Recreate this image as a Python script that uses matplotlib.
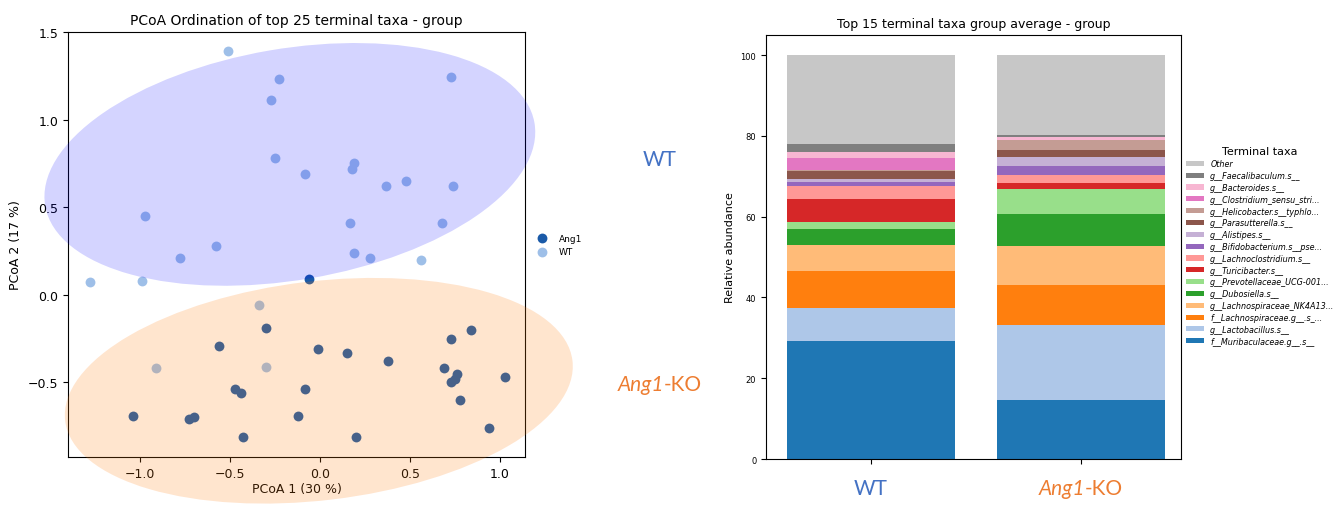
import matplotlib
matplotlib.use('Agg')
import matplotlib.pyplot as plt
from matplotlib.patches import Ellipse
from matplotlib.offsetbox import TextArea, HPacker, AnnotationBbox
import numpy as np

# PCoA coordinates
wt_x = [-0.51, -0.23, -0.27, 0.73, -0.25, -0.08, 0.19, 0.18, 0.37, 0.48, 0.74,
        -0.97, -0.58, -0.78, 0.17, 0.68, 0.19, 0.28, 0.56, -0.99, -1.28,
        -0.34, -0.91, -0.30]
wt_y = [1.39, 1.23, 1.11, 1.24, 0.78, 0.69, 0.75, 0.72, 0.62, 0.65, 0.62,
        0.45, 0.28, 0.21, 0.41, 0.41, 0.24, 0.21, 0.20, 0.08, 0.07,
        -0.06, -0.42, -0.41]
ang_x = [-0.06, -0.30, -0.56, -0.01, 0.15, 0.38, 0.84, 0.73, 0.69, 0.76, 0.75,
         0.73, 1.03, 0.78, 0.94, -0.47, -0.44, -0.08, -1.04, -0.73, -0.70,
         -0.12, -0.43, 0.20]
ang_y = [0.09, -0.19, -0.29, -0.31, -0.33, -0.38, -0.20, -0.25, -0.42, -0.45,
         -0.48, -0.50, -0.47, -0.60, -0.76, -0.54, -0.56, -0.54, -0.69, -0.71,
         -0.70, -0.69, -0.81, -0.81]

# stacked bar data (percent)
groups = ['WT', 'Ang1-KO']
taxa = ['f__Muribaculaceae.g__.s__', 'g__Lactobacillus.s__', 'f__Lachnospiraceae.g__.s_...',
        'g__Lachnospiraceae_NK4A13...', 'g__Dubosiella.s__', 'g__Prevotellaceae_UCG-001...',
        'g__Turicibacter.s__', 'g__Lachnoclostridium.s__', 'g__Bifidobacterium.s__pse...',
        'g__Alistipes.s__', 'g__Parasutterella.s__', 'g__Helicobacter.s__typhlo...',
        'g__Clostridium_sensu_stri...', 'g__Bacteroides.s__', 'g__Faecalibaculum.s__', 'Other']
wt_vals = [29.2, 8.1, 9.2, 6.4, 4.0, 1.7, 5.9, 3.1, 0.9, 0.9, 1.8, 0.3, 3.1, 1.5, 1.8, 22.1]
ko_vals = [14.7, 18.5, 9.8, 9.7, 8.0, 6.1, 1.5, 2.0, 2.3, 2.1, 1.7, 2.5, 0.1, 0.8, 0.5, 19.7]

WT_COL = '#4472c4'
KO_COL = '#ed7d31'


def ko_label(ax, xy, xycoords):
    props = dict(color=KO_COL, fontsize=15, family='Lato')
    box = HPacker(children=[TextArea('Ang1', textprops=dict(style='italic', **props)),
                            TextArea('-KO', textprops=props)],
                  align='baseline', pad=0, sep=0)
    ab = AnnotationBbox(box, xy, xycoords=xycoords, frameon=False, box_alignment=(0.5, 0.5),
                        annotation_clip=False, pad=0)
    ax.add_artist(ab)


fig = plt.figure(figsize=(13.38, 5.06), dpi=100)

# ---- PCoA panel ----
ax1 = fig.add_axes([0.0508, 0.0949, 0.3416, 0.840])
ax1.scatter(ang_x, ang_y, s=50, color='#1a5aa8', label='Ang1', zorder=2, linewidths=0)
ax1.scatter(wt_x, wt_y, s=50, color='#9ebfe8', label='WT', zorder=2, linewidths=0)
ax1.add_patch(Ellipse((-0.167, 0.744), 2.76, 1.32, angle=10, color='blue', alpha=0.17,
                      lw=0, zorder=3, clip_on=False))
ax1.add_patch(Ellipse((-0.006, -0.548), 2.84, 1.25, angle=7, color='#ff7f0e', alpha=0.2,
                      lw=0, zorder=3, clip_on=False))
ax1.set_xlim(-1.4, 1.14)
ax1.set_ylim(-0.926, 1.5)
ax1.set_xticks([-1.0, -0.5, 0.0, 0.5, 1.0])
ax1.set_yticks([-0.5, 0.0, 0.5, 1.0, 1.5])
ax1.tick_params(labelsize=9)
ax1.set_xlabel('PCoA 1 (30 %)', fontsize=9, labelpad=2)
ax1.set_ylabel('PCoA 2 (17 %)', fontsize=9)
ax1.set_title('PCoA Ordination of top 25 terminal taxa - group', fontsize=10)
fig.legend(*ax1.get_legend_handles_labels(), loc='upper left', bbox_to_anchor=(0.396, 0.543),
           frameon=False, fontsize=6.5, handletextpad=0.8, borderaxespad=0)

fig.text(660 / 1338, 1 - 160 / 506, 'WT', color=WT_COL, fontsize=15, family='Lato',
         ha='center', va='center')
ko_label(ax1, (660 / 1338, 1 - 385 / 506), 'figure fraction')

# ---- stacked bar panel ----
ax2 = fig.add_axes([0.5725, 0.0909, 0.3105, 0.838])
colors = plt.get_cmap('tab20').colors[:15] + ('#c7c7c7',)
x = np.arange(len(groups))
bottom = np.zeros(len(groups))
for i, name in enumerate(taxa):
    vals = np.array([wt_vals[i], ko_vals[i]])
    ax2.bar(x, vals, 0.8, bottom=bottom, color=colors[i], label=name)
    bottom += vals
ax2.set_xlim(-0.5, 1.48)
ax2.set_ylim(0, 105)
ax2.set_yticks([0, 20, 40, 60, 80, 100])
ax2.tick_params(axis='y', labelsize=6)
ax2.set_xticks(x)
ax2.set_xticklabels(['', ''])
ax2.text(x[0], -0.068, 'WT', transform=ax2.get_xaxis_transform(), color=WT_COL,
         fontsize=15, family='Lato', ha='center', va='center')
ko_label(ax2, (x[1], -0.068), ax2.get_xaxis_transform())
ax2.set_ylabel('Relative abundance', fontsize=8)
ax2.set_title('Top 15 terminal taxa group average - group', fontsize=9)

h, l = ax2.get_legend_handles_labels()
leg = fig.legend(h[::-1], l[::-1], loc='upper left', bbox_to_anchor=(0.884, 0.715),
                 frameon=False, fontsize=5.8, title='Terminal taxa', title_fontsize=8,
                 labelspacing=0.35, handlelength=2.2, handleheight=0.6, borderaxespad=0)
for t in leg.get_texts():
    t.set_fontstyle('italic')

fig.savefig('out.png', dpi=100)
